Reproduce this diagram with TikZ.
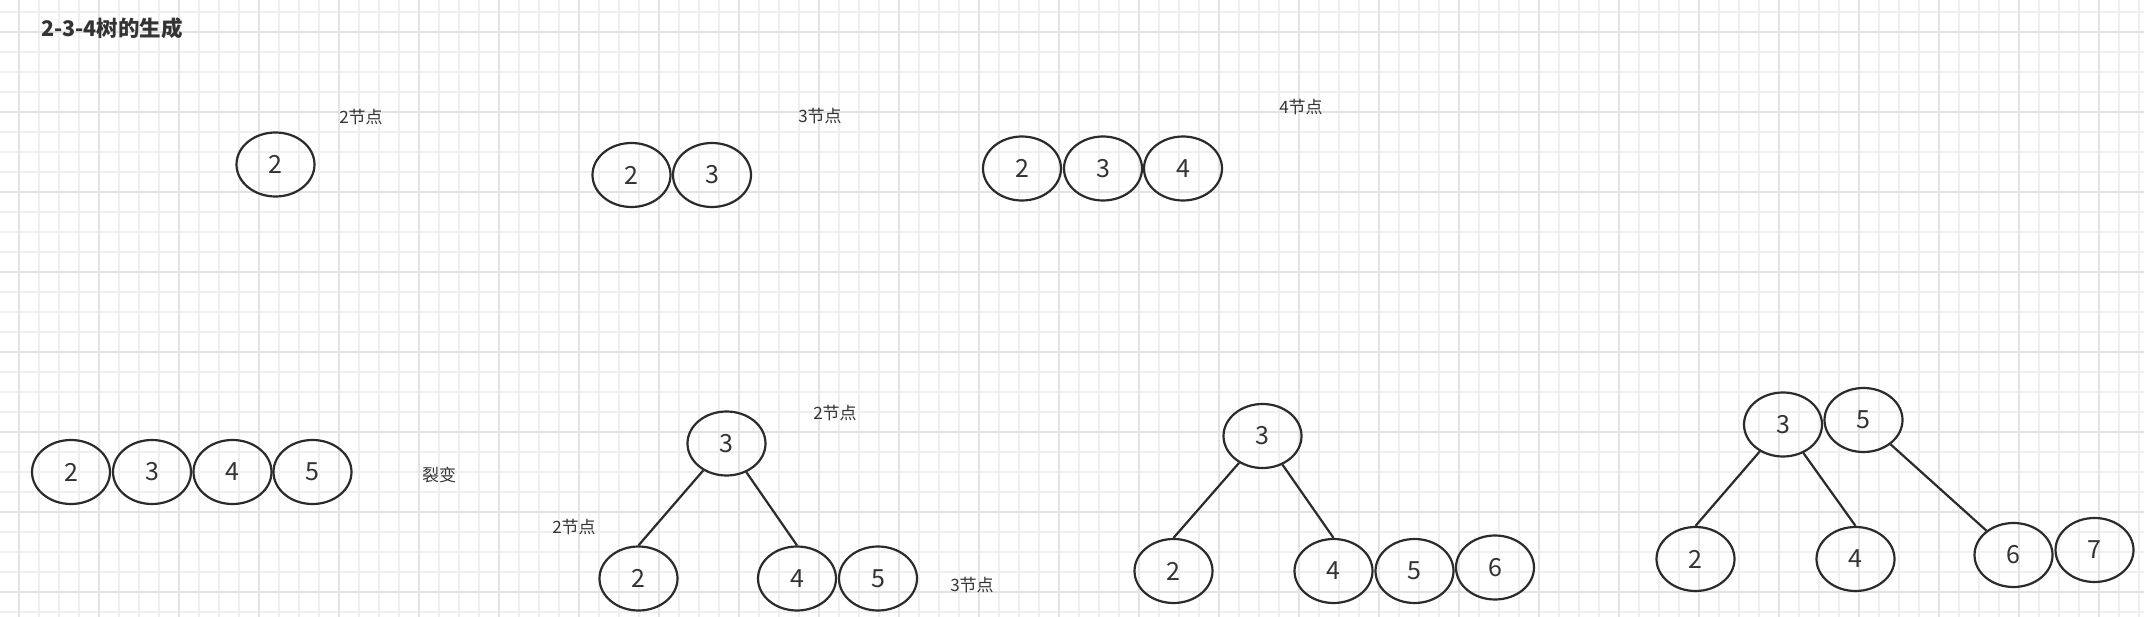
\documentclass[tikz,border=0pt]{standalone}
\usepackage{fontspec}
\newfontfamily\cjk{Noto Sans CJK SC}
\usetikzlibrary{shapes.geometric}
\definecolor{ink}{HTML}{2B2B2B}
\definecolor{txt}{HTML}{333333}
\definecolor{gridminor}{HTML}{EFEFEF}
\definecolor{gridmajor}{HTML}{E3E3E3}
\begin{document}
\begin{tikzpicture}[x=1pt,y=-1pt,
  key/.style={ellipse, draw=ink, line width=2.2pt, minimum width=78pt, minimum height=64pt,
    inner sep=0pt, font=\cjk\fontsize{25}{29}\selectfont, text=txt},
  lbl/.style={font=\cjk\fontsize{17}{20}\selectfont, text=txt, inner sep=0pt},
  link/.style={draw=ink, line width=2.2pt}]
\useasboundingbox (0,0) rectangle (2144,617);
\fill[white] (0,0) rectangle (2144,617);
\foreach \x in {19,39,...,2143} \draw[gridminor, line width=1.2pt] (\x,0) -- (\x,617);
\foreach \y in {12,32,...,617} \draw[gridminor, line width=1.2pt] (0,\y) -- (2144,\y);
\foreach \x in {19,99,...,2143} \draw[gridmajor, line width=1.6pt] (\x,0) -- (\x,617);
\foreach \y in {32,112,...,617} \draw[gridmajor, line width=1.6pt] (0,\y) -- (2144,\y);

% title
\node[anchor=west, inner sep=0pt, text=txt, font=\cjk\bfseries\fontsize{21.5}{25}\selectfont] (title) at (41,28) {2-3-4树的生成};

% row 1
\node[key] (a1) at (275.5,164.5) {2};
\node[lbl] (la) at (361,117) {2节点};

\node[key] (b1) at (631.5,175) {2};
\node[key] (b2) at (712,175) {3};
\node[lbl] (lb) at (820,116) {3节点};

\node[key] (c1) at (1022,168.5) {2};
\node[key] (c2) at (1103,168.5) {3};
\node[key] (c3) at (1183,168.5) {4};
\node[lbl] (lc) at (1301,107) {4节点};

% row 2
\node[key] (d1) at (71,472) {2};
\node[key] (d2) at (152,472) {3};
\node[key] (d3) at (232.5,472) {4};
\node[key] (d4) at (312.5,472) {5};
\node[lbl] (ld) at (439,475) {裂变};

% tree 1
\node[key] (e3) at (726.5,443.5) {3};
\node[key] (e2) at (638.5,578.5) {2};
\node[key] (e4) at (797,578.5) {4};
\node[key] (e5) at (878,578.5) {5};
\node[lbl] (le1) at (835,413) {2节点};
\node[lbl] (le2) at (574,527) {2节点};
\node[lbl] (le3) at (972,585) {3节点};
\draw[link] (e3) -- (e2.north);
\draw[link] (e3) -- (e4.north);

% tree 2
\node[key] (f3) at (1262.5,436) {3};
\node[key] (f2) at (1173.5,571) {2};
\node[key] (f4) at (1333.5,571) {4};
\node[key] (f5) at (1414.5,571) {5};
\node[key] (f6) at (1495,567.5) {6};
\draw[link] (f3) -- (f2.north);
\draw[link] (f3) -- (f4.north);

% tree 3
\node[key] (g3) at (1783,424.5) {3};
\node[key] (g5) at (1863.5,420) {5};
\node[key] (h2) at (1695.5,559) {2};
\node[key] (h4) at (1855.5,559) {4};
\node[key] (h6) at (2013.5,555) {6};
\node[key] (h7) at (2094.5,550) {7};
\draw[link] (g3) -- (h2.north);
\draw[link] (g3) -- (h4.north);
\draw[link] (g5) -- (h6);
\end{tikzpicture}
\end{document}
